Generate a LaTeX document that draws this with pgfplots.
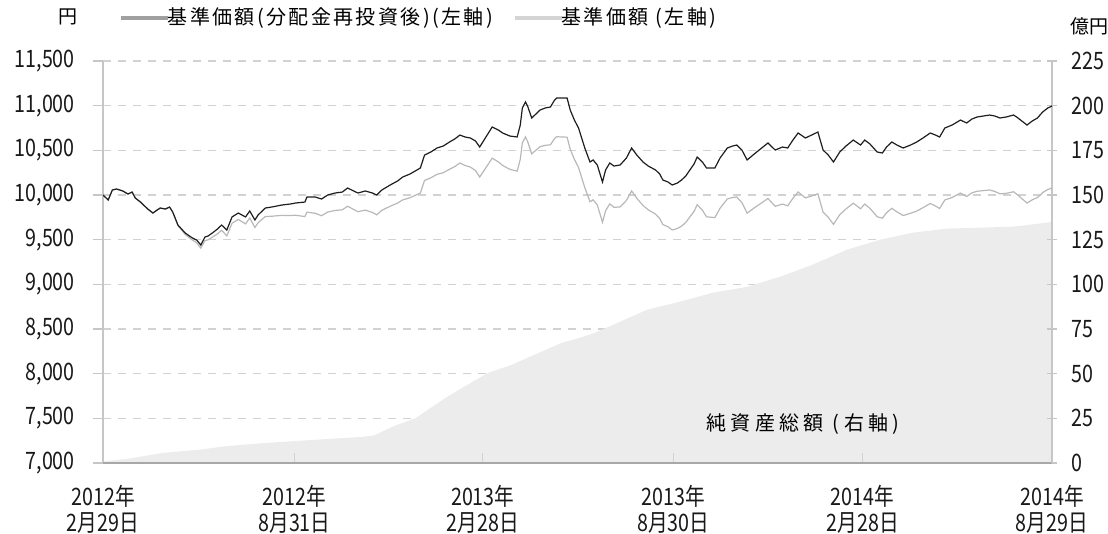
\documentclass[border=0pt]{standalone}
\usepackage{fontspec}
\setmainfont{Noto Sans CJK JP}
\usepackage{pgfplots}
\usepackage{pgfplotstable}
\pgfplotsset{compat=1.18}

\definecolor{lineblack}{HTML}{1E1E1E}
\definecolor{linegray}{HTML}{B8B8B8}
\definecolor{areagray}{HTML}{ECECEC}
\definecolor{gridgray}{HTML}{D2D2D2}
\definecolor{axisgray}{HTML}{C6C6C6}
\definecolor{baseaxis}{HTML}{A8A8A8}
\definecolor{legdark}{HTML}{A0A0A0}
\definecolor{leglight}{HTML}{D4D4D4}
\newcommand\ticksize{\fontsize{24}{26}\selectfont}

\pgfplotstableread{
d black gray
0 10000 10000
5 9944 9944
9 10056 10056
13 10067 10067
19 10045 10045
24 10011 10011
28 10033 10033
31 9966 9966
36 9921 9921
43 9843 9843
48 9798 9798
52 9832 9832
55 9854 9854
60 9843 9843
64 9865 9865
67 9809 9809
72 9664 9657
79 9574 9559
86 9518 9494
90 9496 9466
94 9440 9405
98 9530 9490
101 9541 9498
105 9574 9527
110 9619 9565
114 9664 9605
119 9608 9542
124 9754 9684
130 9798 9726
137 9754 9677
141 9821 9742
146 9720 9636
149 9776 9689
156 9854 9759
162 9865 9762
172 9888 9772
180 9899 9770
185 9910 9773
194 9921 9759
196 9977 9808
204 9977 9795
210 9955 9768
216 10000 9809
223 10022 9827
230 10033 9834
235 10078 9874
245 10022 9813
252 10045 9831
259 10022 9804
263 10000 9778
268 10056 9829
276 10112 9874
283 10156 9909
288 10201 9945
295 10235 9969
305 10302 10022
309 10447 10163
315 10481 10192
321 10526 10231
327 10548 10249
333 10593 10288
338 10627 10318
343 10671 10358
348 10649 10330
353 10638 10313
358 10604 10273
362 10537 10201
368 10649 10306
374 10761 10412
380 10727 10370
384 10694 10331
391 10660 10287
398 10649 10267
401 10783 10398
403 10974 10585
406 11041 10649
408 10996 10601
412 10862 10461
416 10906 10501
420 10951 10540
425 10974 10556
430 10985 10562
434 11063 10633
436 11085 10652
446 11085 10647
449 10951 10512
453 10839 10399
457 10750 10308
460 10638 10195
463 10526 10083
468 10369 9924
471 10392 9946
475 10336 9889
480 10145 9695
483 10280 9825
487 10358 9900
491 10324 9862
497 10336 9866
503 10414 9939
508 10526 10045
513 10447 9963
519 10369 9882
524 10324 9834
531 10280 9785
535 10235 9738
538 10168 9669
543 10145 9644
547 10112 9608
552 10134 9625
556 10168 9652
560 10212 9692
564 10280 9755
568 10347 9816
571 10425 9891
576 10369 9830
580 10302 9756
588 10302 9747
593 10414 9852
600 10526 9956
605 10548 9972
609 10559 9977
614 10503 9915
619 10392 9797
627 10470 9865
633 10526 9912
639 10582 9961
646 10503 9873
653 10537 9898
658 10526 9879
663 10615 9963
668 10694 10034
675 10638 9967
681 10671 9989
687 10705 10013
692 10503 9808
697 10447 9750
702 10369 9671
708 10481 9779
714 10548 9844
721 10615 9908
728 10559 9846
732 10615 9899
737 10571 9851
744 10481 9756
749 10470 9740
753 10537 9801
758 10593 9851
763 10559 9811
769 10526 9770
776 10559 9795
782 10593 9820
788 10638 9858
795 10694 9905
800 10671 9877
804 10649 9848
809 10750 9944
816 10783 9972
824 10839 10022
830 10806 9983
835 10850 10024
840 10873 10042
846 10884 10049
852 10895 10056
857 10884 10040
862 10862 10013
868 10873 10019
875 10895 10036
878 10873 10010
883 10828 9959
888 10783 9910
893 10828 9946
898 10862 9971
903 10929 10027
908 10974 10062
912 10996 10078
}\navtable

\pgfplotstableread{
d nav
0 0.5
2 1
26 2.5
57 5.6
93 7.5
120 9.5
151 11
185 12.3
218 13.5
249 14.6
261 15.5
268 17.5
281 21
300 25
312 29.7
329 36.4
345 42
370 50.4
393 55
408 58.9
441 67.3
458 70
473 72.9
490 77.3
523 85.8
554 90.2
586 95.3
619 98.6
651 104.3
682 111
715 119.4
747 125
778 128.9
811 131.2
843 131.7
875 132.3
907 134.5
912 135
}\assettable

\begin{document}
\begin{tikzpicture}[x=1pt,y=1pt]
\useasboundingbox (0,0) rectangle (1108,534);
\pgfplotsset{
  base/.style={
    scale only axis, width=949pt, height=402pt,
    at={(103pt,71pt)}, anchor=south west,
    xmin=0, xmax=912,
  }
}
% Axis A: left axis, grid, x labels, legend
\begin{axis}[base,
  ymin=7000, ymax=11500, ytick={7000,7500,...,11500},
  scaled y ticks=false,
  axis x line*=bottom, axis y line*=left,
  x axis line style={draw=none},
  y axis line style={axisgray, line width=2pt},
  ymajorgrids, grid style={gridgray, line width=1.1pt, dash pattern=on 8pt off 7pt},
  tick align=outside, major tick length=10pt,
  y tick style={axisgray, line width=1.1pt},
  x tick style={draw=none},
  xtick={0,184,365,548,730,912},
  xticklabels={{2012年\\2月29日},{2012年\\8月31日},{2013年\\2月28日},{2013年\\8月30日},{2014年\\2月28日},{2014年\\8月29日}},
  tick label style={font=\ticksize, xscale=0.82, text=black!90},
  yticklabel style={anchor=east, inner sep=0pt, xshift=-22pt},
  xticklabel style={align=center, anchor=north, inner sep=0pt, yshift=-12pt},
  /pgf/number format/.cd, assume math mode=true, 1000 sep={,},
  /pgfplots/.cd,
  clip=false,
  legend columns=2,
  legend cell align=left,
  legend style={at={(rel axis cs:0.019,1.1095)}, anchor=west, draw=none, fill=none,
    inner sep=0pt, font={\fontsize{20}{22}\selectfont\addfontfeatures{LetterSpace=12}}, nodes={inner sep=0pt},
    /tikz/every even column/.append style={column sep=22pt}},
  legend image code/.code={\fill[#1] (0pt,-2.3pt) rectangle (46pt,1.0pt);},
]
\addlegendimage{color=legdark}
\addlegendentry{基準価額(分配金再投資後)(左軸)}
\addlegendimage{color=leglight}
\addlegendentry{基準価額 (左軸)}
\node[font=\fontsize{19}{22}\selectfont] at (rel axis cs:-0.037,1.1095) {円};
\end{axis}
% Axis B: right axis and net assets area
\begin{axis}[base,
  ymin=0, ymax=225, ytick={0,25,...,225},
  axis x line*=bottom, axis y line*=right, axis on top,
  x axis line style={baseaxis, line width=2.6pt},
  y axis line style={axisgray, line width=2pt},
  tick align=inside, major tick length=10pt,
  xtick={184,365,548,730}, xticklabels={},
  x tick style={gridgray, line width=1pt},
  y tick style={axisgray, line width=1.1pt, xshift=5pt},
  tick label style={font=\ticksize, xscale=0.82, text=black!90},
  yticklabel style={anchor=west, inner sep=0pt, xshift=24pt},
  /pgf/number format/assume math mode=true,
  clip=false,
]
\addplot[fill=areagray, draw=none] table[x=d, y=nav] {\assettable} \closedcycle;
\node[font=\fontsize{19}{22}\selectfont] at (rel axis cs:1.040,1.085) {億円};
\node[font=\fontsize{20}{22}\selectfont] at (rel axis cs:0.7376,0.097) {\addfontfeatures{LetterSpace=22}純資産総額 (右軸)};
\end{axis}
% Axis C: NAV lines
\begin{axis}[base, ymin=7000, ymax=11500, hide axis]
\addplot[linegray, line width=1.2pt] table[x=d, y=gray] {\navtable};
\addplot[lineblack, line width=1.2pt] table[x=d, y=black] {\navtable};
\end{axis}
\end{tikzpicture}
\end{document}
